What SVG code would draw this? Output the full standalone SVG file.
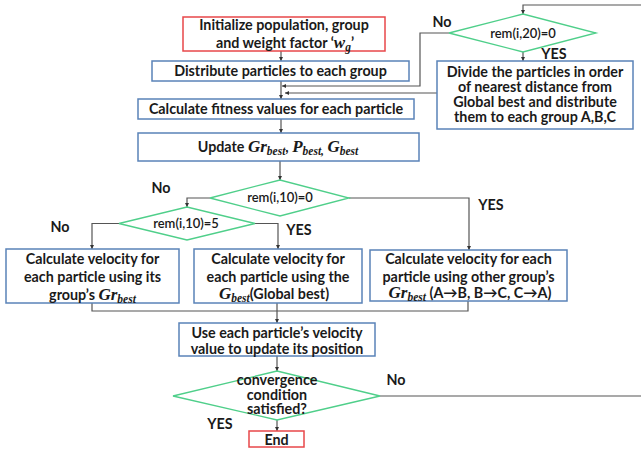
<svg xmlns="http://www.w3.org/2000/svg" width="641" height="452" viewBox="0 0 641 452">
<style>
.box{fill:#fff;stroke:#5a83b8;stroke-width:1.5}
.red{fill:#fff;stroke:#e8474a;stroke-width:1.5}
.dia{fill:#fff;stroke:#4fcf8a;stroke-width:1.3}
.ln{fill:none;stroke:#555;stroke-width:1.2}
.t{font-family:Lato,"Liberation Sans",sans-serif;font-weight:bold;font-size:14.3px;fill:#1a1a1a;text-anchor:middle}
.d{font-size:13px;font-weight:600}
.m{font-family:"Liberation Serif","DejaVu Serif",serif;font-style:italic;font-weight:bold;font-size:17px}
.s{font-size:11.5px}
</style>
<defs>
<marker id="ar" viewBox="0 0 6 6" refX="6" refY="3" markerWidth="4" markerHeight="4" orient="auto" markerUnits="userSpaceOnUse">
<path d="M0,0 L6,3 L0,6 z" fill="#333"/>
</marker>
</defs>
<rect width="641" height="452" fill="#fff"/>
<g id="connectors">
<path class="ln" d="M281,51 V61" marker-end="url(#ar)"/>
<path class="ln" d="M281,81 V99" marker-end="url(#ar)"/>
<path class="ln" d="M281,119 V133" marker-end="url(#ar)"/>
<path class="ln" d="M280,161 V180" marker-end="url(#ar)"/>
<path class="ln" d="M641,5 H523 V14" marker-end="url(#ar)"/>
<path class="ln" d="M449,33 H420 V86 H282" marker-end="url(#ar)"/>
<path class="ln" d="M523,52 V61" marker-end="url(#ar)"/>
<path class="ln" d="M437,93 H285" marker-end="url(#ar)"/>
<path class="ln" d="M210,198 H187 V207" marker-end="url(#ar)"/>
<path class="ln" d="M349,198 H469 V250" marker-end="url(#ar)"/>
<path class="ln" d="M119,223.5 H92 V249" marker-end="url(#ar)"/>
<path class="ln" d="M255,223.5 H278 V249" marker-end="url(#ar)"/>
<path class="ln" d="M92,303 V311 H468 V301"/>
<path class="ln" d="M277,303 V323" marker-end="url(#ar)"/>
<path class="ln" d="M277,356 V371" marker-end="url(#ar)"/>
<path class="ln" d="M380,396 H641"/>
<path class="ln" d="M277,420 V431" marker-end="url(#ar)"/>
</g>
<g id="n-init">
<rect class="red" x="183" y="17" width="202" height="34"/>
<text class="t" x="284" y="30">Initialize population, group</text>
<text class="t" x="285" y="47.5">and weight factor ‘<tspan class="m">w</tspan><tspan class="m s" dy="3">g</tspan><tspan dy="-3">’</tspan></text>
</g>
<g id="n-distribute">
<rect class="box" x="152" y="61" width="257" height="20"/>
<text class="t" x="280.5" y="76">Distribute particles to each group</text>
</g>
<g id="n-fitness">
<rect class="box" x="138" y="99" width="276" height="20"/>
<text class="t" x="276" y="114">Calculate fitness values for each particle</text>
</g>
<g id="n-update">
<rect class="box" x="138" y="133" width="281" height="28"/>
<text class="t" x="278" y="151.5">Update <tspan class="m">Gr</tspan><tspan class="m s" dy="3">best</tspan><tspan dy="-3">, </tspan><tspan class="m">P</tspan><tspan class="m s" dy="3">best,</tspan><tspan dy="-3"> </tspan><tspan class="m">G</tspan><tspan class="m s" dy="3">best</tspan></text>
</g>
<g id="d-rem20">
<polygon class="dia" points="449,33 523,14 596,33 523,52"/>
<text class="t d" x="523" y="37.5">rem(i,20)=0</text>
</g>
<g id="n-divide">
<rect class="box" x="437" y="61" width="196" height="68"/>
<text class="t" x="535" y="76.5">Divide the particles in order</text>
<text class="t" x="535" y="91.5">of nearest distance from</text>
<text class="t" x="535" y="106.5">Global best and distribute</text>
<text class="t" x="535" y="121.5">them to each group A,B,C</text>
</g>
<g id="d-rem10-0">
<polygon class="dia" points="210,198 280,180 349,198 280,216"/>
<text class="t d" x="280" y="202">rem(i,10)=0</text>
</g>
<g id="d-rem10-5">
<polygon class="dia" points="119,223.5 187,207 255,223.5 187,240"/>
<text class="t d" x="186" y="228">rem(i,10)=5</text>
</g>
<g id="n-vel-own">
<rect class="box" x="6" y="249" width="173" height="54"/>
<text class="t" x="92.5" y="263.5">Calculate velocity for</text>
<text class="t" x="92.5" y="281.5">each particle using its</text>
<text class="t" x="92.5" y="299.5">group’s <tspan class="m">Gr</tspan><tspan class="m s" dy="3">best</tspan></text>
</g>
<g id="n-vel-global">
<rect class="box" x="194" y="249" width="168" height="54"/>
<text class="t" x="278" y="263.5">Calculate velocity for</text>
<text class="t" x="278" y="281.5">each particle using the</text>
<text class="t" x="274" y="299"><tspan class="m">G</tspan><tspan class="m s" dy="3">best</tspan><tspan dy="-3">(Global best)</tspan></text>
</g>
<g id="n-vel-other">
<rect class="box" x="370" y="250" width="197" height="51"/>
<text class="t" x="468.5" y="263.5">Calculate velocity for each</text>
<text class="t" x="468.5" y="281.5">particle using other group’s</text>
<text class="t" x="470" y="298"><tspan class="m">Gr</tspan><tspan class="m s" dy="3">best</tspan><tspan dy="-3"> (A→B, B→C, C→A)</tspan></text>
</g>
<g id="n-position">
<rect class="box" x="179" y="323" width="196" height="33"/>
<text class="t" x="277" y="337.5">Use each particle’s velocity</text>
<text class="t" x="277" y="354">value to update its position</text>
</g>
<g id="d-converge">
<polygon class="dia" points="173,396 277,371 380,396 277,420"/>
<text class="t" x="277" y="384.5">convergence</text>
<text class="t" x="277" y="399.5">condition</text>
<text class="t" x="277" y="414">satisfied?</text>
</g>
<g id="n-end">
<rect class="red" x="249" y="431" width="55" height="16"/>
<text class="t" x="276.5" y="444.5">End</text>
</g>
<g id="labels">
<text class="t" x="442" y="27">No</text>
<text class="t" x="554" y="59">YES</text>
<text class="t" x="161" y="193">No</text>
<text class="t" x="60" y="232">No</text>
<text class="t" x="299" y="234.5">YES</text>
<text class="t" x="491" y="210">YES</text>
<text class="t" x="396" y="384.5">No</text>
<text class="t" x="220" y="428.5">YES</text>
</g>
</svg>
